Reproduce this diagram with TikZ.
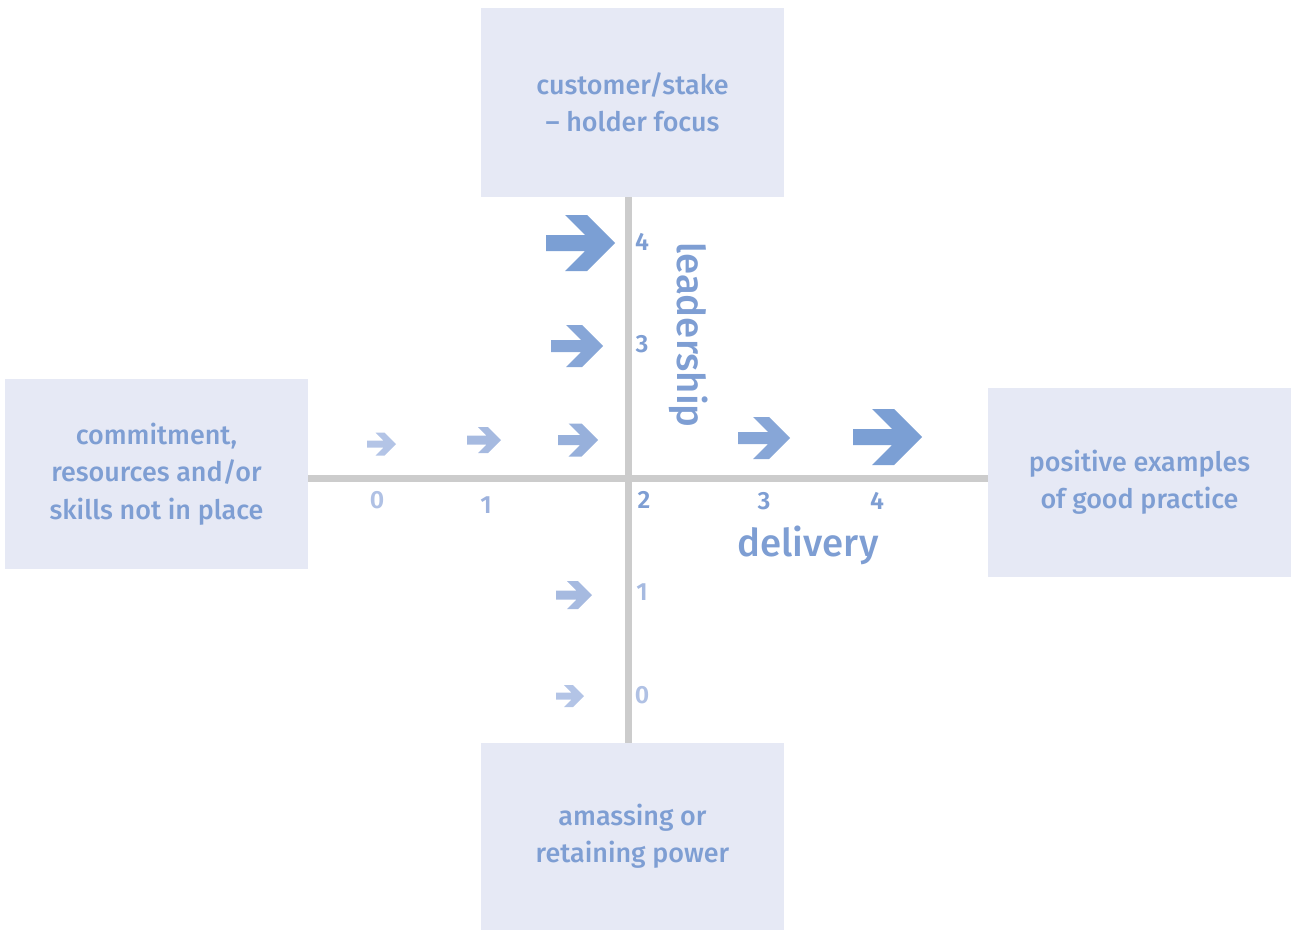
\documentclass[tikz,border=0pt]{standalone}
\usepackage{fontspec}
\setmainfont{Fira Sans}[UprightFont=* Medium]
\newfontfamily\numfont{Fira Sans}[UprightFont=* SemiBold]
\definecolor{boxfill}{HTML}{E6E9F5}
\definecolor{ink}{HTML}{7E9ED3}
\definecolor{axisgray}{HTML}{CCCCCC}
\definecolor{arA}{HTML}{7B9FD4}
\definecolor{arB}{HTML}{87A6D7}
\definecolor{arC}{HTML}{97B0DB}
\definecolor{arD}{HTML}{A6BAE0}
\definecolor{arE}{HTML}{B3C4E6}
\definecolor{numD}{HTML}{9DB2DD}
\definecolor{numE}{HTML}{B0C1E4}
% block arrow: tip x, centre y, tail x, head half-height, shaft half-height, head depth, colour
\newcommand\blockarrow[7]{%
  \fill[#7] (#3,#2-#5) -- ({#1-#6-#5},#2-#5) -- ({#1-#4-#6},#2-#4) -- ({#1-#4},#2-#4)
    -- (#1,#2) -- ({#1-#4},#2+#4) -- ({#1-#4-#6},#2+#4) -- ({#1-#6-#5},#2+#5)
    -- (#3,#2+#5) -- cycle;}
\tikzset{
  box/.style={fill=boxfill, text=ink, align=center, inner sep=0pt,
    minimum width=303bp, font=\fontsize{27}{37.5}\selectfont},
  axis/.style={draw=axisgray, line width=7bp},
  num/.style={text=ink, font=\numfont\fontsize{25}{27}\selectfont, inner sep=0pt},
  axlabel/.style={text=ink, font=\fontsize{38.5}{40}\selectfont, inner sep=0pt},
}
\begin{document}
\begin{tikzpicture}[x=1bp, y=-1bp]
\useasboundingbox (0,0) rectangle (1291,930);

% boxes
\node[box, minimum height=189bp] (top) at (632.5,102.5) {customer/stake\\– holder focus};
\node[box, minimum height=190bp] (left) at (156.5,474) {commitment,\\resources and/or\\skills not in place};
\node[box, minimum height=189bp] (right) at (1139.5,482.5) {positive examples\\of good practice};
\node[box, minimum height=187bp] (bottom) at (632.5,836.5) {amassing or\\retaining power};

% axes
\coordinate (vx) at (628,0);
\coordinate (hy) at (0,478);
\draw[axis] (top.south -| vx) -- (bottom.north -| vx);
\draw[axis] (left.east |- hy) -- (right.west |- hy);

% arrows along leadership
\blockarrow{615}{243}{546}{28}{8}{22}{arA}
\blockarrow{603}{346}{551}{21}{6}{16}{arB}
\blockarrow{598}{440}{558}{16.5}{5}{13}{arC}
\blockarrow{592}{595}{556}{14}{4.5}{11}{arD}
\blockarrow{584}{696}{556}{11}{3.5}{9}{arE}
% arrows along delivery
\blockarrow{501}{440}{467}{13}{4.5}{10}{arD}
\blockarrow{396}{444}{367}{11.5}{3.5}{9}{arE}
\blockarrow{790}{438}{738}{21}{6}{16}{arB}
\blockarrow{922}{437}{853}{28}{8}{22}{arA}

% scale numbers
\node[num] (v4) at (642,242) {4};
\node[num] (v3) at (642,344) {3};
\node[num, text=arD] (v1) at (642,592) {1};
\node[num, text=numE] (v0) at (642,695) {0};
\node[num] (h2) at (644,500) {2};
\node[num, text=numE] (h0) at (377,500) {0};
\node[num, text=numD] (h1) at (486,505) {1};
\node[num] (h3) at (764,501) {3};
\node[num] (h4) at (877,501) {4};

% axis titles
\node[axlabel, rotate=-90] (lead) at (689,335) {leadership};
\node[axlabel] (deliv) at (808,545) {delivery};
\end{tikzpicture}
\end{document}
